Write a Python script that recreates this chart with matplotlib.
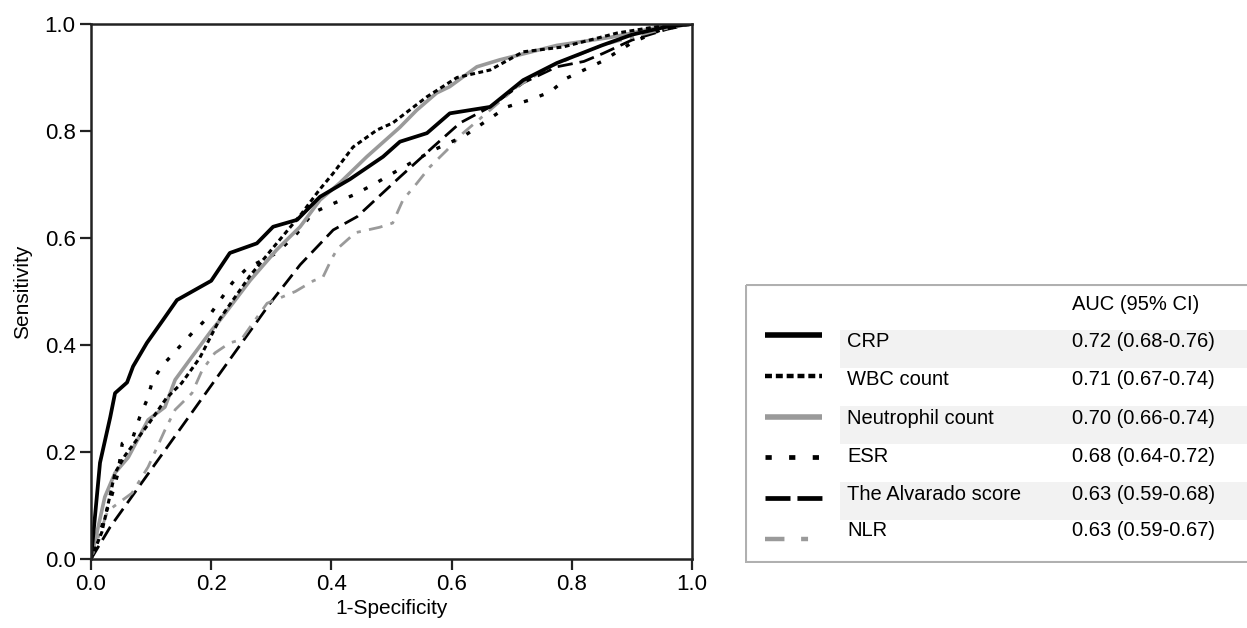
import matplotlib
matplotlib.use("Agg")
import matplotlib.pyplot as plt
from matplotlib.lines import Line2D
from matplotlib.patches import Rectangle

plt.rcParams['font.family'] = ['Liberation Sans', 'DejaVu Sans']
plt.rcParams['lines.scale_dashes'] = False

names = ["CRP", "WBC count", "Neutrophil count", "ESR", "The Alvarado score", "NLR"]
auc_text = ["0.72 (0.68-0.76)", "0.71 (0.67-0.74)", "0.70 (0.66-0.74)",
            "0.68 (0.64-0.72)", "0.63 (0.59-0.68)", "0.63 (0.59-0.67)"]

crp_x = [0, 0.005, 0.01, 0.015, 0.025, 0.032, 0.04, 0.06, 0.07, 0.093, 0.12, 0.143, 0.181, 0.2,
         0.231, 0.276, 0.303, 0.343, 0.381, 0.431, 0.486, 0.514, 0.559, 0.597, 0.664, 0.719,
         0.775, 0.85, 0.9, 0.958, 1.0]
crp_y = [0, 0.06, 0.12, 0.18, 0.23, 0.265, 0.31, 0.33, 0.36, 0.404, 0.447, 0.484, 0.508, 0.52,
         0.572, 0.59, 0.621, 0.634, 0.677, 0.71, 0.752, 0.78, 0.796, 0.833, 0.845, 0.895,
         0.927, 0.96, 0.98, 0.995, 1.0]

wbc_x = [0, 0.018, 0.04, 0.057, 0.098, 0.125, 0.151, 0.181, 0.215, 0.265, 0.309, 0.35, 0.38,
         0.403, 0.436, 0.476, 0.502, 0.559, 0.609, 0.664, 0.719, 0.785, 0.875, 0.958, 1.0]
wbc_y = [0, 0.05, 0.161, 0.194, 0.256, 0.30, 0.329, 0.376, 0.45, 0.53, 0.59, 0.645, 0.69,
         0.721, 0.77, 0.802, 0.815, 0.864, 0.90, 0.914, 0.948, 0.957, 0.983, 0.998, 1.0]

neu_x = [0, 0.01, 0.023, 0.04, 0.062, 0.095, 0.123, 0.14, 0.168, 0.201, 0.215, 0.265, 0.309,
         0.348, 0.381, 0.414, 0.459, 0.514, 0.542, 0.575, 0.597, 0.642, 0.68, 0.775, 0.864,
         0.9, 0.958, 1.0]
neu_y = [0, 0.05, 0.116, 0.161, 0.19, 0.26, 0.284, 0.335, 0.378, 0.428, 0.447, 0.521, 0.578,
         0.621, 0.671, 0.703, 0.752, 0.807, 0.839, 0.871, 0.883, 0.92, 0.933, 0.96, 0.975,
         0.983, 0.998, 1.0]

esr_x = [0, 0.01, 0.02, 0.035, 0.045, 0.052, 0.07, 0.081, 0.093, 0.103, 0.12, 0.145, 0.168,
         0.195, 0.235, 0.26, 0.309, 0.343, 0.369, 0.398, 0.436, 0.47, 0.502, 0.569, 0.62,
         0.692, 0.73, 0.764, 0.792, 0.85, 0.9, 0.95, 1.0]
esr_y = [0, 0.03, 0.07, 0.12, 0.161, 0.216, 0.228, 0.265, 0.297, 0.335, 0.363, 0.394, 0.422,
         0.452, 0.516, 0.544, 0.572, 0.609, 0.647, 0.662, 0.68, 0.70, 0.721, 0.764, 0.79,
         0.845, 0.858, 0.873, 0.899, 0.93, 0.965, 0.99, 1.0]

alv_x = [0, 0.032, 0.203, 0.298, 0.348, 0.403, 0.443, 0.514, 0.569, 0.614, 0.664, 0.719,
         0.775, 0.82, 0.852, 0.90, 0.958, 1.0]
alv_y = [0, 0.06, 0.329, 0.478, 0.55, 0.615, 0.64, 0.714, 0.77, 0.815, 0.845, 0.89,
         0.92, 0.93, 0.945, 0.97, 0.99, 1.0]

nlr_x = [0, 0.012, 0.028, 0.068, 0.095, 0.123, 0.14, 0.168, 0.185, 0.206, 0.231, 0.25, 0.265,
         0.293, 0.34, 0.37, 0.386, 0.40, 0.41, 0.44, 0.48, 0.502, 0.519, 0.542, 0.564, 0.592,
         0.619, 0.664, 0.709, 0.764, 0.85, 0.95, 1.0]
nlr_y = [0, 0.04, 0.09, 0.123, 0.172, 0.241, 0.279, 0.31, 0.353, 0.385, 0.404, 0.41, 0.434,
         0.478, 0.50, 0.52, 0.527, 0.56, 0.58, 0.61, 0.62, 0.628, 0.671, 0.702, 0.733, 0.764,
         0.796, 0.839, 0.883, 0.92, 0.96, 0.99, 1.0]

xs = [crp_x, wbc_x, neu_x, esr_x, alv_x, nlr_x]
ys = [crp_y, wbc_y, neu_y, esr_y, alv_y, nlr_y]

GRAY = '#9a9a9a'
styles = [
    dict(color='black', ls='-', lw=2.7),
    dict(color='black', ls=(0, (3.5, 2.5)), lw=2.2),
    dict(color=GRAY, ls='-', lw=2.6),
    dict(color='black', ls=(0, (3, 9)), lw=2.4),
    dict(color='black', ls=(0, (11, 5)), lw=2.0),
    dict(color=GRAY, ls=(0, (10, 6, 3, 6)), lw=2.0),
]
leg_styles = [
    dict(color='black', ls='-', lw=4.0),
    dict(color='black', ls=(0, (5, 2.8)), lw=3.2),
    dict(color=GRAY, ls='-', lw=4.0),
    dict(color='black', ls=(0, (4.5, 12.5)), lw=3.4),
    dict(color='black', ls=(0, (18, 5)), lw=3.4),
    dict(color=GRAY, ls=(0, (14, 12, 5, 20)), lw=3.2),
]

W, H = 1247, 628
fig = plt.figure(figsize=(W / 100, H / 100), dpi=100)
ax = fig.add_axes([91 / W, 1 - 559 / H, (692 - 91) / W, (559 - 24) / H])

order = [4, 5, 3, 2, 1, 0]
for i in order:
    ax.plot(xs[i], ys[i], solid_capstyle='butt', dash_capstyle='butt', **styles[i])

ax.set_xlim(0, 1)
ax.set_ylim(0, 1)
ticks = [0.0, 0.2, 0.4, 0.6, 0.8, 1.0]
ax.set_xticks(ticks)
ax.set_yticks(ticks)
ax.set_xticklabels([f"{t:.1f}" for t in ticks])
ax.set_yticklabels([f"{t:.1f}" for t in ticks])
ax.tick_params(direction='out', length=8, width=1.6, labelsize=16, pad=3, color='#222222')
for s in ax.spines.values():
    s.set_linewidth(1.8)
    s.set_color('#222222')
ax.set_xlabel("1-Specificity", fontsize=15, labelpad=3)
ax.set_ylabel("Sensitivity", fontsize=15, labelpad=9)

# legend table
lax = fig.add_axes([745 / W, 1 - 563 / H, (1300 - 745) / W, (563 - 284) / H])
lax.set_xlim(745, 1300)
lax.set_ylim(563, 284)
lax.axis('off')
lax.add_patch(Rectangle((746, 285), 600, 277, fill=False, edgecolor='#b0b0b0', lw=1.5))
row_y = [342, 380, 418, 457, 494, 531]
line_y = [335, 376, 417, 457, 498, 539]
for k in (0, 2, 4):
    lax.add_patch(Rectangle((840, row_y[k] - 12), 460, 38, facecolor='#f2f2f2', edgecolor='none'))
lax.text(1072, 305, "AUC (95% CI)", fontsize=14.5, va='center', ha='left')
for k in range(6):
    lax.add_line(Line2D([765, 822], [line_y[k], line_y[k]], solid_capstyle='butt',
                        dash_capstyle='butt', **leg_styles[k]))
    lax.text(847, row_y[k], names[k], fontsize=14.5, va='center', ha='left')
    lax.text(1072, row_y[k], auc_text[k], fontsize=14.5, va='center', ha='left')

fig.savefig("out.png", dpi=100)
